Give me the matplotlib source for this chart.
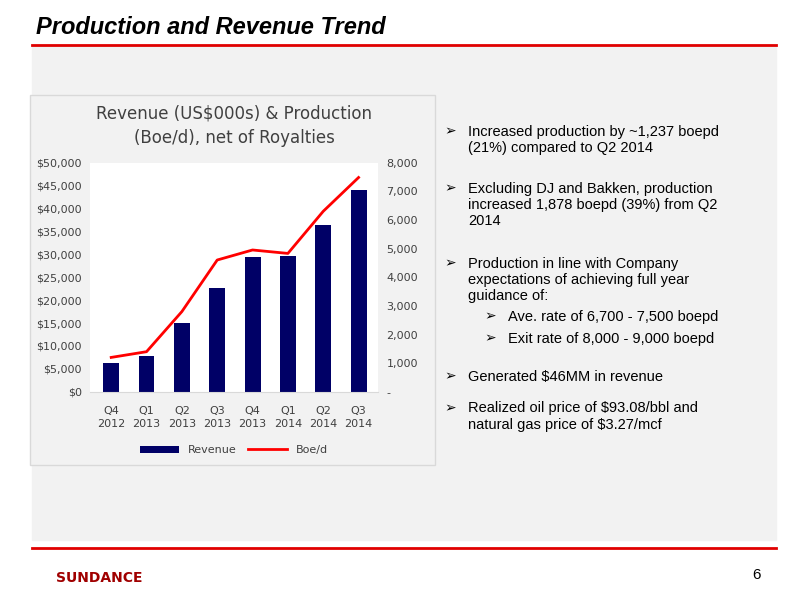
import matplotlib.pyplot as plt
from matplotlib.patches import Rectangle
from matplotlib.lines import Line2D

quarters = ['Q4\n2012', 'Q1\n2013', 'Q2\n2013', 'Q3\n2013', 'Q4\n2013', 'Q1\n2014', 'Q2\n2014', 'Q3\n2014']
revenue = [6300, 7800, 15000, 22700, 29300, 29700, 36300, 44000]
boed = [1200, 1400, 2800, 4600, 4950, 4830, 6300, 7480]

bullets = [
    (0.792, 'Increased production by ~1,237 boepd\n(21%) compared to Q2 2014', 0),
    (0.697, 'Excluding DJ and Bakken, production\nincreased 1,878 boepd (39%) from Q2\n2014', 0),
    (0.572, 'Production in line with Company\nexpectations of achieving full year\nguidance of:', 0),
    (0.484, 'Ave. rate of 6,700 - 7,500 boepd', 1),
    (0.447, 'Exit rate of 8,000 - 9,000 boepd', 1),
    (0.384, 'Generated $46MM in revenue', 0),
    (0.331, 'Realized oil price of $93.08/bbl and\nnatural gas price of $3.27/mcf', 0),
]

fig = plt.figure(figsize=(8, 6), dpi=100)
fig.patch.set_facecolor('white')

# slide title and rules
fig.text(0.045, 0.955, 'Production and Revenue Trend', fontsize=17, fontweight='bold',
         fontstyle='italic', va='center', family='Liberation Sans')
fig.add_artist(Line2D([0.04, 0.97], [0.925, 0.925], color='#e00000', lw=2))
fig.add_artist(Rectangle((0.04, 0.1), 0.93, 0.825, color='#f2f2f2', zorder=-2))
fig.add_artist(Line2D([0.04, 0.97], [0.087, 0.087], color='#e00000', lw=2))
fig.add_artist(Rectangle((0.0375, 0.225), 0.506, 0.617, facecolor='#f2f2f2',
                         edgecolor='#d9d9d9', lw=1, zorder=-1))

ax = fig.add_axes([0.1125, 0.347, 0.36, 0.382])
ax.set_facecolor('white')
x = range(len(quarters))
ax.bar(x, revenue, width=0.45, color='#000066', label='Revenue')
ax.set_ylim(0, 50000)
ax.set_yticks(range(0, 50001, 5000))
ax.set_yticklabels(['$0'] + [f'${v:,}' for v in range(5000, 50001, 5000)])
ax.set_xticks(list(x))
ax.set_xticklabels(quarters, linespacing=1.4)
ax.set_xlim(-0.6, 7.55)
for s in ['top', 'right', 'left']:
    ax.spines[s].set_visible(False)
ax.spines['bottom'].set_color('#d9d9d9')
ax.tick_params(axis='y', length=0, labelsize=8, colors='#404040', pad=6)
ax.tick_params(axis='x', length=0, labelsize=8, colors='#404040', pad=10)

ax2 = ax.twinx()
ax2.plot(x, boed, color='#ff0000', lw=2, label='Boe/d')
ax2.set_ylim(0, 8000)
ax2.set_yticks(range(0, 8001, 1000))
ax2.set_yticklabels(['-'] + [f'{v:,}' for v in range(1000, 8001, 1000)])
for s in ax2.spines.values():
    s.set_visible(False)
ax2.tick_params(length=0, labelsize=8, colors='#404040', pad=6)

ax.set_title('Revenue (US$000s) & Production\n(Boe/d), net of Royalties', fontsize=12,
             color='#404040', pad=14, linespacing=1.5)
h1, l1 = ax.get_legend_handles_labels()
h2, l2 = ax2.get_legend_handles_labels()
ax.legend(h1 + h2, l1 + l2, loc='upper center', bbox_to_anchor=(0.5, -0.19), ncol=2,
          frameon=False, fontsize=8, handlelength=3.5, columnspacing=1.0, labelcolor='#404040')

for y, t, lvl in bullets:
    xb = 0.555 + lvl * 0.05
    fig.text(xb, y, '\u27a2', fontsize=10, va='top', family='DejaVu Sans')
    fig.text(xb + 0.03, y, t, fontsize=10.5, va='top', linespacing=1.2,
             family='Liberation Sans')

fig.text(0.94, 0.035, '6', fontsize=11, family='Liberation Sans')
fig.text(0.07, 0.03, 'SUNDANCE', fontsize=10, fontweight='bold', color='#a00000')

fig.savefig('out.png', dpi=100)
